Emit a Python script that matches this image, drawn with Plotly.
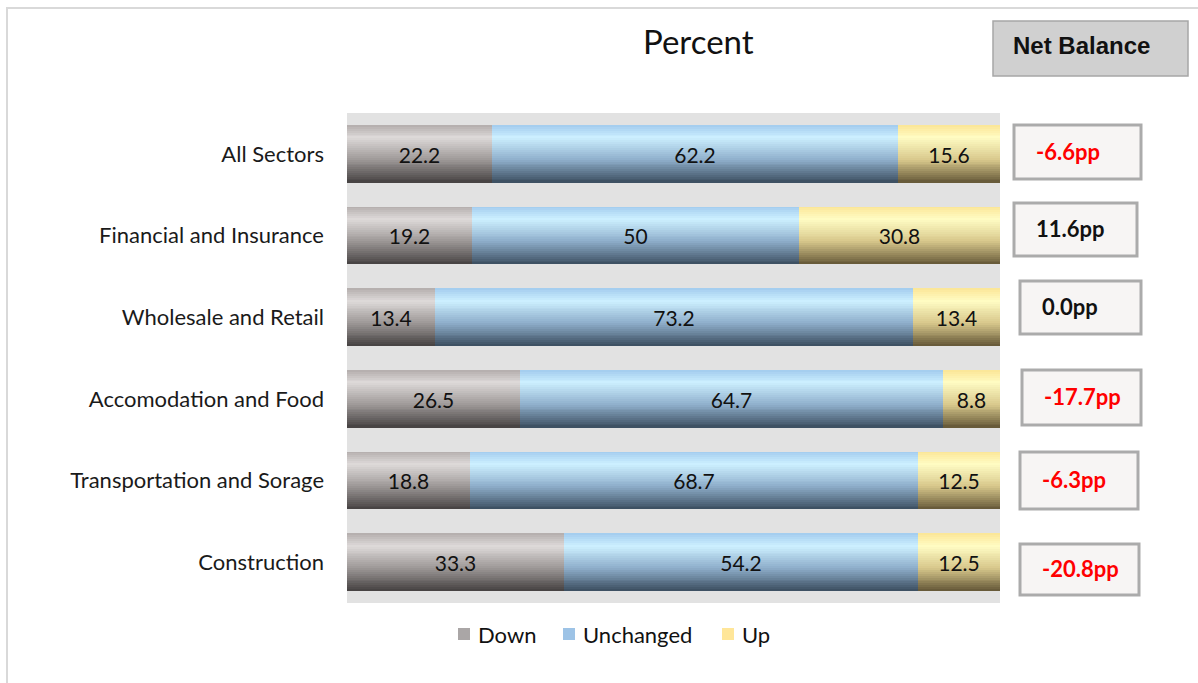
import plotly.graph_objects as go

# Survey responses by sector (percent of firms)
categories = ["All Sectors", "Financial and Insurance", "Wholesale and Retail",
              "Accomodation and Food", "Transportation and Sorage", "Construction"]
down = [22.2, 19.2, 13.4, 26.5, 18.8, 33.3]
unchanged = [62.2, 50, 73.2, 64.7, 68.7, 54.2]
up = [15.6, 30.8, 13.4, 8.8, 12.5, 12.5]
series_names = ["Down", "Unchanged", "Up"]

W, H = 1198, 683
L, R, T, B = 347, 1000, 113, 603


def px(x):
    return (x - L) / (R - L)


def py(y):
    return (B - y) / (B - T)


def hex_rgb(h):
    h = h.lstrip("#")
    return tuple(int(h[i:i + 2], 16) for i in (0, 2, 4))


def ramp(stops, t):
    for (t0, c0), (t1, c1) in zip(stops, stops[1:]):
        if t0 <= t <= t1:
            f = (t - t0) / (t1 - t0) if t1 > t0 else 0
            a, b = hex_rgb(c0), hex_rgb(c1)
            return "rgb(%d,%d,%d)" % tuple(round(a[k] + (b[k] - a[k]) * f) for k in range(3))
    return stops[-1][1]


# vertical shading of each bar segment (top -> bottom)
gradients = {
    "Down": [(0, "#b3adac"), (0.22, "#dedad9"), (0.6, "#9d9897"), (1, "#444040")],
    "Unchanged": [(0, "#a2cbee"), (0.22, "#cdf0ff"), (0.6, "#8eaecb"), (1, "#3b4d5e")],
    "Up": [(0, "#fbe596"), (0.22, "#fffcc3"), (0.6, "#d8c88c"), (1, "#635636")],
}
legend_colors = {"Down": "#aaa6a6", "Unchanged": "#9dc3e6", "Up": "#ffe699"}

values = {"Down": down, "Unchanged": unchanged, "Up": up}
bases = {
    "Down": [0] * len(categories),
    "Unchanged": list(down),
    "Up": [d + u for d, u in zip(down, unchanged)],
}

bar_w = 0.71
n_strips = 30
step = bar_w / n_strips

fig = go.Figure()
for name in series_names:
    for i in range(n_strips):
        t = (i + 0.5) / n_strips
        w = step * (1.6 if i < n_strips - 1 else 1.0)
        fig.add_trace(go.Bar(
            y=categories, x=values[name], base=bases[name], orientation="h",
            width=w, offset=-bar_w / 2 + i * step,
            marker=dict(color=ramp(gradients[name], t), line=dict(width=0)),
            showlegend=False, hoverinfo="skip",
        ))
    # value labels centred in each segment
    fig.add_trace(go.Bar(
        y=categories, x=values[name], base=bases[name], orientation="h",
        width=bar_w, offset=-bar_w / 2,
        marker=dict(color="rgba(0,0,0,0)", line=dict(width=0)),
        text=[("%g" % v) for v in values[name]], textposition="inside",
        insidetextanchor="middle", constraintext="none",
        textfont=dict(family="Lato", size=21, color="#111111"),
        showlegend=False, name=name,
    ))

fig.update_layout(
    width=W, height=H,
    margin=dict(l=L, r=W - R, t=T, b=H - B),
    paper_bgcolor="white", plot_bgcolor="#e2e2e2",
    barmode="overlay", bargap=0,
    xaxis=dict(range=[0, 100], visible=False, fixedrange=True),
    yaxis=dict(categoryorder="array", categoryarray=categories, autorange="reversed",
               showgrid=False, zeroline=False, ticks="", ticklabelstandoff=22,
               tickfont=dict(family="Lato", size=22, color="#1a1a1a")),
    font=dict(family="Lato"),
    showlegend=False,
)

shapes = []
annotations = []

# outer frame
shapes.append(dict(type="rect", xref="paper", yref="paper",
                   x0=px(7), x1=px(1210), y0=py(8), y1=py(700),
                   line=dict(color="#d9d9d9", width=2), fillcolor="rgba(0,0,0,0)", layer="below"))

# title
annotations.append(dict(text="Percent", xref="paper", yref="paper", x=px(698), y=py(41),
                        showarrow=False, font=dict(family="Lato", size=33, color="#111111"),
                        xanchor="center", yanchor="middle"))

# Net Balance header box
shapes.append(dict(type="rect", xref="paper", yref="paper",
                   x0=px(993), x1=px(1188), y0=py(21), y1=py(76),
                   line=dict(color="#a6a6a6", width=1.5), fillcolor="#d0d0d0"))
annotations.append(dict(text="<b>Net Balance</b>", xref="paper", yref="paper",
                        x=px(1081), y=py(46), showarrow=False, xanchor="center", yanchor="middle",
                        font=dict(family="Liberation Sans", size=24, color="#111111")))

# net balance (Up minus Down) boxes beside each bar
boxes = [(1014, 1141, 125, 179), (1014, 1137, 203, 256), (1020, 1141, 281, 334),
         (1022, 1141, 370, 425), (1020, 1138, 452, 509), (1020, 1139, 544, 595)]
for (x0, x1, y0, y1), d, u in zip(boxes, down, up):
    nb = round(u - d, 1)
    shapes.append(dict(type="rect", xref="paper", yref="paper",
                       x0=px(x0), x1=px(x1), y0=py(y0), y1=py(y1),
                       line=dict(color="#ababab", width=3), fillcolor="#f7f5f4"))
    annotations.append(dict(text="<b>%.1fpp</b>" % nb, xref="paper", yref="paper",
                            x=px(x0 + 20), y=py((y0 + y1) / 2 - 1), showarrow=False,
                            xanchor="left", yanchor="middle",
                            font=dict(family="Lato", size=22,
                                      color="#ff0000" if nb < 0 else "#111111")))

# legend
legend_pos = {"Down": 458, "Unchanged": 563, "Up": 722}
for name in series_names:
    x0 = legend_pos[name]
    shapes.append(dict(type="rect", xref="paper", yref="paper",
                       x0=px(x0), x1=px(x0 + 12), y0=py(628), y1=py(640),
                       line=dict(width=0), fillcolor=legend_colors[name]))
    annotations.append(dict(text=name, xref="paper", yref="paper", x=px(x0 + 18), y=py(634),
                            showarrow=False, xanchor="left", yanchor="middle",
                            font=dict(family="Lato", size=22, color="#111111")))

fig.update_layout(shapes=shapes, annotations=annotations)
fig.write_html("out.html")
